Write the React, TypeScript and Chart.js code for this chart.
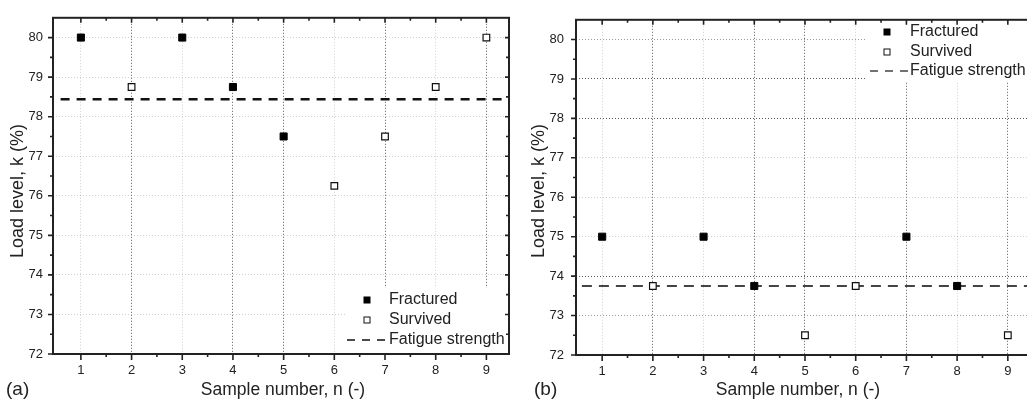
import React, { useEffect, useRef } from "react";
import { Chart, registerables } from "chart.js";

Chart.register(...registerables);

// ---------- data ----------
const xTickValues = [1, 2, 3, 4, 5, 6, 7, 8, 9];
const yTickValues = [72, 73, 74, 75, 76, 77, 78, 79, 80];
const legendLabels = ["Fractured", "Survived", "Fatigue strength"];
const xTitle = "Sample number, n (-)";
const yTitle = "Load level, k (%)";

// Panel (a)
const aFracturedX = [1, 3, 4, 5];
const aFracturedY = [80, 80, 78.75, 77.5];
const aSurvivedX = [2, 6, 7, 8, 9];
const aSurvivedY = [78.75, 76.25, 77.5, 78.75, 80];
const aFatigueStrength = 78.44;
const aFatigueSpan = [0.6, 9.45];

// Panel (b)
const bFracturedX = [1, 3, 4, 7, 8];
const bFracturedY = [75, 75, 73.75, 75, 73.75];
const bSurvivedX = [2, 5, 6, 9];
const bSurvivedY = [73.75, 72.5, 73.75, 72.5];
const bFatigueStrength = 73.75;
const bFatigueSpan = [0.6, 9.46];

// grid tone per tick (style)
const aVGrid = ["L", "D", "L", "D", "D", "L", "D", "L", "D"];
const aHGrid = ["N", "L", "L", "L", "L", "L", "L", "L", "L"];
const bVGrid = ["L", "D", "L", "D", "D", "L", "D", "L", "D"];
const bHGrid = ["N", "M", "D", "L", "L", "L", "D", "D", "M"];
const toneColor: Record<string, string> = {
  D: "rgba(60,60,60,0.85)",
  M: "rgba(90,90,90,0.6)",
  L: "rgba(120,120,120,0.35)",
  N: "rgba(0,0,0,0)",
};

const FONT = "'Liberation Sans', Arial, Helvetica, sans-serif";
const TEXT = "#222";

const decorPlugin = {
  id: "decor",
  beforeDatasetsDraw(chart: any, _a: any, o: any) {
    const ctx = chart.ctx;
    ctx.save();
    ctx.fillStyle = "#fff";
    const b = o.legendBox;
    ctx.fillRect(b[0], b[1], b[2], b[3]);
    ctx.restore();
  },
  afterDraw(chart: any, _a: any, o: any) {
    const ctx = chart.ctx;
    const { left, right, top, bottom } = chart.chartArea;
    const xs = chart.scales.x;
    const ys = chart.scales.y;
    ctx.save();
    // ticks
    ctx.strokeStyle = "#222";
    ctx.lineWidth = 1.6;
    ctx.beginPath();
    for (let i = 0; i < xTickValues.length; i++) {
      const px = xs.getPixelForValue(xTickValues[i]);
      ctx.moveTo(px, bottom);
      ctx.lineTo(px, bottom + 6);
      ctx.moveTo(px, top);
      ctx.lineTo(px, top + 5);
      if (i < xTickValues.length - 1) {
        const pm = xs.getPixelForValue((xTickValues[i] + xTickValues[i + 1]) / 2);
        ctx.moveTo(pm, bottom);
        ctx.lineTo(pm, bottom + 3);
        ctx.moveTo(pm, top);
        ctx.lineTo(pm, top + 3);
      }
    }
    for (let i = 0; i < yTickValues.length; i++) {
      const py = ys.getPixelForValue(yTickValues[i]);
      ctx.moveTo(left - 5, py);
      ctx.lineTo(left, py);
      ctx.moveTo(right - 4, py);
      ctx.lineTo(right, py);
      if (i < yTickValues.length - 1) {
        const pm = ys.getPixelForValue((yTickValues[i] + yTickValues[i + 1]) / 2);
        ctx.moveTo(left - 3, pm);
        ctx.lineTo(left, pm);
        ctx.moveTo(right - 3, pm);
        ctx.lineTo(right, pm);
      }
    }
    ctx.stroke();
    // frame
    ctx.lineWidth = 2;
    ctx.strokeStyle = "#222";
    ctx.strokeRect(left, top, right - left, bottom - top);

    // legend
    const lg = o.legend;
    const ds = chart.data.datasets;
    ctx.font = `16px ${FONT}`;
    ctx.textBaseline = "middle";
    ctx.textAlign = "left";
    for (let i = 0; i < 3; i++) {
      const y = lg.rows[i];
      const d = ds[i];
      if (i < 2) {
        const s = 6;
        ctx.fillStyle = d.backgroundColor;
        ctx.fillRect(lg.markerX - s / 2, y - s / 2, s, s);
        ctx.lineWidth = 1;
        ctx.strokeStyle = d.borderColor;
        ctx.strokeRect(lg.markerX - s / 2, y - s / 2, s, s);
      } else {
        ctx.save();
        ctx.strokeStyle = d.borderColor;
        ctx.lineWidth = 1.6;
        ctx.setLineDash([8, 7]);
        ctx.beginPath();
        ctx.moveTo(lg.dash[0], y);
        ctx.lineTo(lg.dash[1], y);
        ctx.stroke();
        ctx.restore();
      }
      ctx.fillStyle = TEXT;
      ctx.fillText(d.label, lg.textX, y);
    }

    // titles
    ctx.fillStyle = TEXT;
    ctx.font = `17.5px ${FONT}`;
    ctx.textAlign = "center";
    ctx.fillText(xTitle, o.xTitle[0], o.xTitle[1]);
    ctx.save();
    ctx.translate(o.yTitle[0], o.yTitle[1]);
    ctx.rotate(-Math.PI / 2);
    ctx.font = `18px ${FONT}`;
    ctx.fillText(yTitle, 0, 0);
    ctx.restore();
    ctx.font = `19px ${FONT}`;
    ctx.textAlign = "left";
    ctx.fillText(o.letter, o.letterPos[0], o.letterPos[1]);
    ctx.restore();
  },
};

function makeConfig(p: any): any {
  const pts = (xs: number[], ys: number[]) => xs.map((x, i) => ({ x, y: ys[i] }));
  return {
    type: "scatter",
    data: {
      datasets: [
        {
          label: legendLabels[0],
          data: pts(p.fx, p.fy),
          pointStyle: "rect",
          pointRadius: 5,
          backgroundColor: "#000",
          borderColor: "#000",
          borderWidth: 1,
        },
        {
          label: legendLabels[1],
          data: pts(p.sx, p.sy),
          pointStyle: "rect",
          pointRadius: 4.7,
          backgroundColor: "#fff",
          borderColor: "#111",
          borderWidth: 1.2,
        },
        {
          label: legendLabels[2],
          data: p.span.map((x: number) => ({ x, y: p.fs })),
          showLine: true,
          pointRadius: 0,
          borderColor: p.lineColor,
          backgroundColor: p.lineColor,
          borderWidth: p.lineWidth,
          borderDash: p.lineDash,
        },
      ],
    },
    options: {
      responsive: false,
      animation: false,
      events: [],
      layout: { padding: { left: 0, top: 12, right: 4, bottom: 0 } },
      plugins: {
        legend: { display: false },
        tooltip: { enabled: false },
        decor: p.decor,
      },
      scales: {
        x: {
          type: "linear",
          min: p.xMin,
          max: p.xMax,
          afterBuildTicks: (s: any) => {
            s.ticks = xTickValues.map((v) => ({ value: v }));
          },
          afterFit: (s: any) => {
            s.height = p.xAxisH;
          },
          border: { display: false, dash: [1, 2] },
          grid: {
            drawTicks: false,
            lineWidth: 1,
            color: (c: any) => toneColor[p.vGrid[c.index]] || "rgba(0,0,0,0)",
          },
          ticks: { padding: 9, color: TEXT, font: { size: 13, family: FONT } },
        },
        y: {
          type: "linear",
          min: 72,
          max: 80.5,
          afterBuildTicks: (s: any) => {
            s.ticks = yTickValues.map((v) => ({ value: v }));
          },
          afterFit: (s: any) => {
            s.width = p.yAxisW;
          },
          border: { display: false, dash: [1, 2] },
          grid: {
            drawTicks: false,
            lineWidth: 1,
            color: (c: any) => toneColor[p.hGrid[c.index]] || "rgba(0,0,0,0)",
          },
          ticks: { padding: p.yPad, color: TEXT, font: { size: 13, family: FONT } },
        },
      },
    },
    plugins: [decorPlugin],
  };
}

const panelA = {
  fx: aFracturedX, fy: aFracturedY, sx: aSurvivedX, sy: aSurvivedY,
  fs: aFatigueStrength, span: aFatigueSpan,
  lineColor: "#111", lineWidth: 2.5, lineDash: [9, 7],
  xMin: 0.45, xMax: 9.446, xAxisH: 47, yAxisW: 53, yPad: 10,
  vGrid: aVGrid, hGrid: aHGrid,
  decor: {
    legendBox: [345, 288, 166, 66],
    legend: { markerX: 367, textX: 389, rows: [300, 320, 340], dash: [347, 386] },
    xTitle: [283, 390],
    yTitle: [18, 191],
    letter: "(a)",
    letterPos: [6, 390],
  },
};

const panelB = {
  fx: bFracturedX, fy: bFracturedY, sx: bSurvivedX, sy: bSurvivedY,
  fs: bFatigueStrength, span: bFatigueSpan,
  lineColor: "#444", lineWidth: 2, lineDash: [10, 7],
  xMin: 0.484, xMax: 9.457, xAxisH: 46, yAxisW: 61, yPad: 12,
  vGrid: bVGrid, hGrid: bHGrid,
  decor: {
    legendBox: [351, 13, 200, 68],
    legend: { markerX: 372, textX: 395, rows: [32, 52, 71], dash: [355, 394] },
    xTitle: [283, 390],
    yTitle: [24, 191],
    letter: "(b)",
    letterPos: [19, 390],
  },
};

function Panel({ cfg, left, width }: { cfg: any; left: number; width: number }) {
  const ref = useRef<HTMLCanvasElement | null>(null);
  useEffect(() => {
    if (!ref.current) return;
    const chart = new Chart(ref.current, makeConfig(cfg));
    return () => chart.destroy();
  }, [cfg]);
  return (
    <canvas
      ref={ref}
      width={width}
      height={401}
      style={{ position: "absolute", left, top: 0, width, height: 401, display: "block" }}
    />
  );
}

export default function App() {
  useEffect(() => {
    document.body.style.margin = "0";
  }, []);
  return (
    <div
      style={{
        position: "relative",
        width: 1027,
        height: 401,
        overflow: "hidden",
        background: "#fff",
      }}
    >
      <Panel cfg={panelA} left={0} width={515} />
      <Panel cfg={panelB} left={515} width={522} />
    </div>
  );
}
